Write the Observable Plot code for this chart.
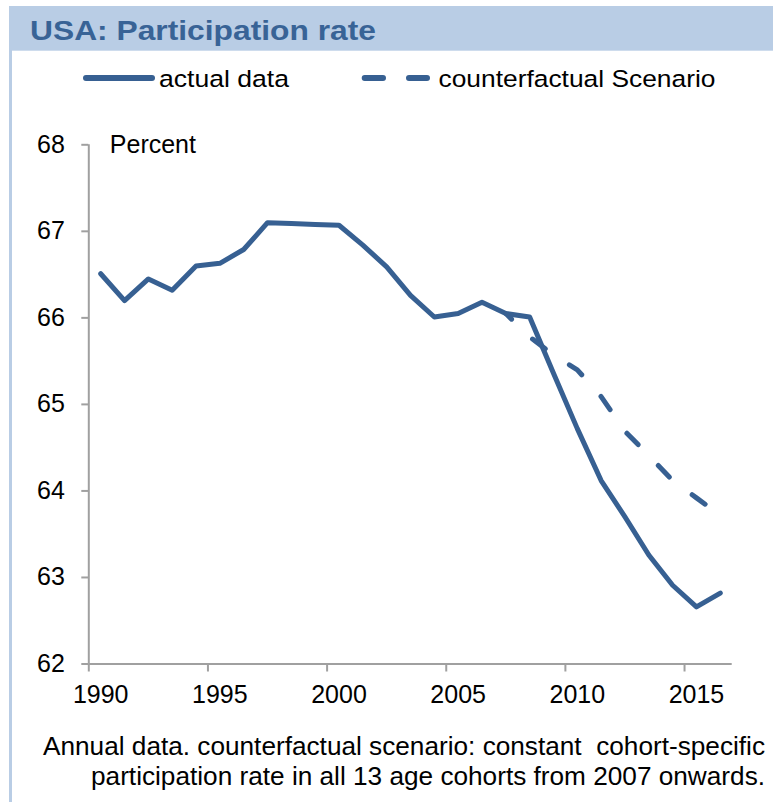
<!DOCTYPE html>
<html>
<head>
<meta charset="utf-8">
<script src="https://cdn.jsdelivr.net/npm/d3@7"></script>
<script src="https://cdn.jsdelivr.net/npm/@observablehq/plot@0.6"></script>
<style>
  html, body { margin: 0; padding: 0; background: #fff; }
  #page { position: relative; width: 773px; height: 802px; overflow: hidden; font-family: "Liberation Sans", Arial, sans-serif; }
  #border { position: absolute; left: 9px; top: 6px; width: 2.5px; height: 796px; background: #b9cde5; z-index: 5; }
  #header { position: absolute; left: 0; top: 0; width: 773px; height: 100px; }
  #chart { position: absolute; left: 0; top: 100px; width: 773px; height: 600px; }
  #footer { position: absolute; left: 0; top: 700px; width: 773px; height: 102px; }
  svg text { font-family: "Liberation Sans", Arial, sans-serif; }
</style>
</head>
<body>
<div id="page">
  <div id="header"></div>
  <div id="chart"></div>
  <div id="footer"></div>
  <div id="border"></div>
</div>
<script>
// ---- data ----
const years = [1990, 1991, 1992, 1993, 1994, 1995, 1996, 1997, 1998, 1999, 2000, 2001, 2002, 2003,
               2004, 2005, 2006, 2007, 2008, 2009, 2010, 2011, 2012, 2013, 2014, 2015, 2016];
const actualValues = [66.51, 66.20, 66.45, 66.32, 66.60, 66.63, 66.79, 67.10, 67.09, 67.08, 67.07, 66.84, 66.59, 66.26,
                      66.01, 66.05, 66.18, 66.05, 66.01, 65.36, 64.72, 64.12, 63.70, 63.26, 62.91, 62.66, 62.82];
const cfYears = [2007, 2008, 2009, 2010, 2011, 2012, 2013, 2014, 2015, 2016];
const cfValues = [66.05, 65.78, 65.57, 65.40, 65.09, 64.69, 64.41, 64.12, 63.92, 63.72];
const xTicks = [1990, 1995, 2000, 2005, 2010, 2015];
const yTicks = [62, 63, 64, 65, 66, 67, 68];
const xDomain = [1990, 2017];
const yDomain = [62, 68];
const titleText = "USA: Participation rate";
const seriesNames = ["actual data", "counterfactual Scenario"];
const unitLabel = "Percent";
const captionLines = ["Annual data. counterfactual scenario: constant  cohort-specific",
                      "participation rate in all 13 age cohorts from 2007 onwards."];

// ---- styles ----
const lineColor = "#376092";
const axisGray = "#a0a0a0";
const bannerColor = "#b9cde5";

const actual = years.map((year, i) => ({year, value: actualValues[i]}));
const counterfactual = cfYears.map((year, i) => ({year, value: cfValues[i]}));

// ---- header: banner, title, legend ----
const ns = "http://www.w3.org/2000/svg";
function el(name, attrs, parent) {
  const e = document.createElementNS(ns, name);
  for (const k in attrs) e.setAttribute(k, attrs[k]);
  if (parent) parent.appendChild(e);
  return e;
}
const hsvg = el("svg", {width: 773, height: 100, viewBox: "0 0 773 100"});
document.getElementById("header").appendChild(hsvg);
el("rect", {x: 9, y: 6, width: 764, height: 44.7, fill: bannerColor}, hsvg);
const t = el("text", {x: 30, y: 39.5, "font-size": 28.5, "font-weight": "bold", fill: "#386396",
  textLength: 346, lengthAdjust: "spacingAndGlyphs"}, hsvg);
t.textContent = titleText;
// legend
el("line", {x1: 86, x2: 152, y1: 78, y2: 78, stroke: lineColor, "stroke-width": 6, "stroke-linecap": "round"}, hsvg);
const l1 = el("text", {x: 159, y: 87, "font-size": 24.5, fill: "#000", textLength: 130, lengthAdjust: "spacingAndGlyphs"}, hsvg);
l1.textContent = seriesNames[0];
el("line", {x1: 364.7, x2: 427, y1: 78, y2: 78, stroke: lineColor, "stroke-width": 6, "stroke-linecap": "round",
  "stroke-dasharray": "18.3,26"}, hsvg);
const l2 = el("text", {x: 438.5, y: 87, "font-size": 24.5, fill: "#000", textLength: 277, lengthAdjust: "spacingAndGlyphs"}, hsvg);
l2.textContent = seriesNames[1];

// ---- chart ----
const chart = Plot.plot({
  width: 773,
  height: 600,
  marginLeft: 88.3,
  marginRight: 41.3,
  marginTop: 44.3,
  marginBottom: 36.5,
  x: {domain: xDomain},
  y: {domain: yDomain},
  style: {fontFamily: "'Liberation Sans', Arial, sans-serif", fontSize: "25px", color: "#000", background: "transparent", overflow: "visible"},
  marks: [
    Plot.ruleX([xDomain[0]], {stroke: axisGray, strokeWidth: 2}),
    Plot.ruleY([yDomain[0]], {stroke: axisGray, strokeWidth: 2}),
    Plot.axisY({ticks: yTicks, tickSize: 7, tickPadding: 17, stroke: axisGray, strokeWidth: 2, fill: "#000",
      fontSize: 25, label: null, tickFormat: d => String(d)}),
    Plot.axisX({ticks: xTicks, tickSize: 8, stroke: axisGray, strokeWidth: 2, label: null, tickFormat: () => ""}),
    Plot.axisX({ticks: xTicks, tickSize: 0, tickPadding: 21, dx: 11.9, fill: "#000", fontSize: 25, label: null,
      tickFormat: d => String(d)}),
    Plot.text([unitLabel], {frameAnchor: "top-left", dx: 21, textAnchor: "start", lineAnchor: "middle",
      fontSize: 25, fill: "#000"}),
    Plot.line(actual, {x: d => d.year + 0.5, y: "value", stroke: lineColor, strokeWidth: 5,
      strokeLinejoin: "round", strokeLinecap: "round"}),
    Plot.line(counterfactual, {x: d => d.year + 0.5, y: "value", stroke: lineColor, strokeWidth: 5,
      strokeLinejoin: "round", strokeLinecap: "round", strokeDasharray: "16,29", strokeDashoffset: 8})
  ]
});
document.getElementById("chart").appendChild(chart);

// ---- footer: caption ----
const fsvg = el("svg", {width: 773, height: 102, viewBox: "0 0 773 102"});
document.getElementById("footer").appendChild(fsvg);
const c1 = el("text", {x: 765, y: 55, "font-size": 25, fill: "#000", "text-anchor": "end",
  textLength: 722, lengthAdjust: "spacingAndGlyphs", "xml:space": "preserve", style: "white-space: pre"}, fsvg);
c1.textContent = captionLines[0];
const c2 = el("text", {x: 765, y: 85, "font-size": 25, fill: "#000", "text-anchor": "end",
  textLength: 674, lengthAdjust: "spacingAndGlyphs"}, fsvg);
c2.textContent = captionLines[1];
</script>
</body>
</html>
